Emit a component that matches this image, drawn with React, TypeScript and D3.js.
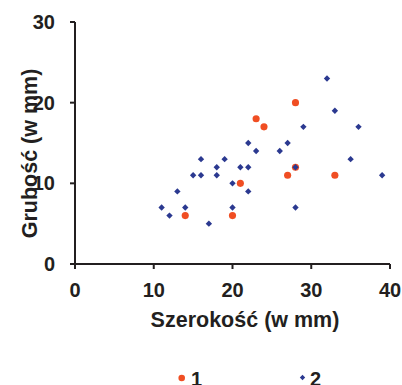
import React from "react";
import * as d3 from "d3";

const series1X = [14, 20, 21, 23, 24, 27, 28, 28, 33];
const series1Y = [6, 6, 10, 18, 17, 11, 12, 20, 11];
const series2X = [11, 12, 13, 14, 15, 16, 16, 17, 18, 18, 19, 20, 20, 21, 22, 22, 22, 23, 26, 27, 28, 28, 29, 32, 33, 35, 36, 39];
const series2Y = [7, 6, 9, 7, 11, 11, 13, 5, 11, 12, 13, 10, 7, 12, 12, 9, 15, 14, 14, 15, 12, 7, 17, 23, 19, 13, 17, 11];
const xTicks = [0, 10, 20, 30, 40];
const yTicks = [0, 10, 20, 30];
const seriesNames = ["1", "2"];

const ORANGE = "#F04E23";
const BLUE = "#2B3990";
const INK = "#231F20";
const FONT = "'Liberation Sans', Arial, sans-serif";

export default function App() {
  const W = 402, H = 385;
  const x = d3.scaleLinear().domain([0, 40]).range([75, 390]);
  const y = d3.scaleLinear().domain([0, 30]).range([264, 22]);
  const diamond = d3.symbol().type(d3.symbolDiamond2).size(26)();
  const circle = d3.symbol().type(d3.symbolCircle).size(40)();
  const pts1 = series1X.map((v, i) => [v, series1Y[i]]);
  const pts2 = series2X.map((v, i) => [v, series2Y[i]]);
  return (
    <svg width={W} height={H} style={{ position: "absolute", left: 0, top: 0 }} fontFamily={FONT}>
      <rect width={W} height={H} fill="#fff" />
      {/* axes */}
      <line x1={x(0)} x2={x(0)} y1={y(30)} y2={y(0) + 1} stroke={INK} strokeWidth={2} />
      <line x1={x(0) - 1} x2={x(40)} y1={y(0)} y2={y(0)} stroke={INK} strokeWidth={2} />
      {yTicks.map((t) => (
        <g key={"y" + t}>
          <line x1={x(0) - 5} x2={x(0)} y1={y(t)} y2={y(t)} stroke={INK} strokeWidth={2} />
          <text x={55} y={y(t) + 7} textAnchor="end" fontSize={20} fontWeight="bold" fill={INK}>{t}</text>
        </g>
      ))}
      {xTicks.map((t) => (
        <g key={"x" + t}>
          <line x1={x(t)} x2={x(t)} y1={y(0)} y2={y(0) + 5} stroke={INK} strokeWidth={2} />
          <text x={x(t)} y={297} textAnchor="middle" fontSize={20} fontWeight="bold" fill={INK}>{t}</text>
        </g>
      ))}
      <text x={245} y={327} textAnchor="middle" fontSize={21.5} fontWeight="bold" fill={INK}>Szerokość (w mm)</text>
      <text transform={`translate(37,153.5) rotate(-90)`} textAnchor="middle" fontSize={21.5} fontWeight="bold" fill={INK}>Grubość (w mm)</text>
      {/* series */}
      {pts1.map(([a, b], i) => (
        <path key={"s1" + i} d={circle} transform={`translate(${x(a)},${y(b)})`} fill={ORANGE} />
      ))}
      {pts2.map(([a, b], i) => (
        <path key={"s2" + i} d={diamond} transform={`translate(${x(a)},${y(b)})`} fill={BLUE} />
      ))}
      {/* legend */}
      <path d={d3.symbol().type(d3.symbolCircle).size(34)()} transform="translate(181.7,378)" fill={ORANGE} />
      <text x={191} y={385.5} fontSize={20} fontWeight="bold" fill={INK}>{seriesNames[0]}</text>
      <path d={d3.symbol().type(d3.symbolDiamond2).size(18)()} transform="translate(302.5,377.5)" fill={BLUE} />
      <text x={310} y={385.5} fontSize={20} fontWeight="bold" fill={INK}>{seriesNames[1]}</text>
    </svg>
  );
}
